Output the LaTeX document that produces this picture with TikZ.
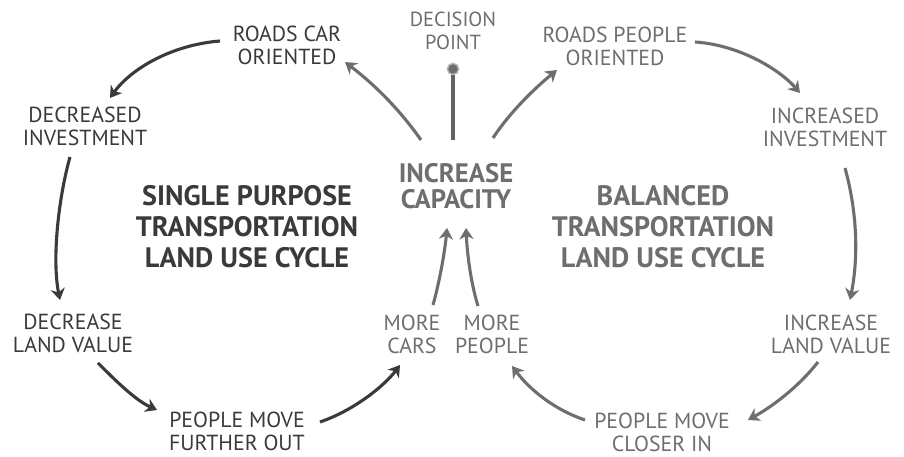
\documentclass[tikz,border=0pt]{standalone}
\usepackage{fontspec}
\setmainfont{PT Sans}
\usetikzlibrary{arrows.meta,calc}
\definecolor{dk}{HTML}{3A3A3A}
\definecolor{gr}{HTML}{6E6E6E}
\tikzset{
  lbl/.style={align=center,font=\fontsize{15.5}{16.5}\selectfont,inner sep=0pt},
  ttl/.style={align=center,font=\fontsize{20}{22}\bfseries\selectfont,inner sep=0pt},
  arr/.style={line width=2.2pt,-{Stealth[length=8pt,width=10pt,inset=2.5pt]}},
}
\begin{document}
\begin{tikzpicture}[x=0.025cm,y=-0.025cm]
\useasboundingbox[fill=white] (0,0) rectangle (904,457);
% nodes
\node[lbl,text=dk] (rco) at (287,45) {ROADS CAR\\ORIENTED};
\node[lbl,text=dk] (di) at (85,126) {DECREASED\\INVESTMENT};
\node[lbl,text=dk] (dlv) at (73,333) {DECREASE\\LAND VALUE};
\node[lbl,text=dk] (pmfo) at (237,431) {PEOPLE MOVE\\FURTHER OUT};
\node[lbl,text=gr] (mc) at (412,334) {MORE\\CARS};
\node[lbl,text=gr] (mp) at (492,334) {MORE\\PEOPLE};
\node[lbl,text=gr] (pmci) at (662,432) {PEOPLE MOVE\\CLOSER IN};
\node[lbl,text=gr] (ilv) at (831,334) {INCREASE\\LAND VALUE};
\node[lbl,text=gr] (ii) at (825,127) {INCREASED\\INVESTMENT};
\node[lbl,text=gr] (rpo) at (615,46) {ROADS PEOPLE\\ORIENTED};
\node[lbl,text=gr,font=\fontsize{14.5}{16.5}\selectfont] (dp) at (453,31) {DECISION\\POINT};
\node[ttl,text=gr,font=\fontsize{19}{18.5}\bfseries\selectfont] (ic) at (456,186) {INCREASE\\CAPACITY};
\node[ttl,text=dk] (sp) at (247,227) {SINGLE PURPOSE\\TRANSPORTATION\\LAND USE CYCLE};
\node[ttl,text=gr] (bt) at (663,227) {BALANCED\\TRANSPORTATION\\LAND USE CYCLE};
\node[circle,fill=gr,draw=gr!50,line width=1pt,minimum size=8pt,inner sep=0pt] (dot) at (453,69) {};
% decision line
\draw[gr!90!black,line width=2.2pt] (dot.south) -- ($(ic)+(-3,-46)$);
% left cycle
\draw[arr,dk] ($(rco)+(-67,-4)$) .. controls +(-50,4) and +(20,-28) .. ($(di)+(25,-28)$);
\draw[arr,dk] ($(di)+(-15,31)$) .. controls +(-12,43) and +(-8,-40) .. ($(dlv)+(-13,-33)$);
\draw[arr,dk] ($(dlv)+(25,30)$) .. controls +(17,17) and +(-22,-10) .. ($(pmfo)+(-80,-21)$);
\draw[arr,dk] ($(pmfo)+(83,-9)$) .. controls +(35,-12) and +(-15,20) .. ($(mc)+(-12,31)$);
% center
\draw[arr,gr] ($(mc)+(21,-29)$) .. controls +(7,-25) and +(-2,22) .. ($(ic)+(-9,42)$);
\draw[arr,gr] ($(mp)+(-14,-28)$) .. controls +(-8,-26) and +(1,22) .. ($(ic)+(10,42)$);
\draw[arr,gr] ($(ic)+(-35,-46)$) .. controls +(-21,-30) and +(30,23) .. ($(rco)+(58,17)$);
\draw[arr,gr] ($(ic)+(37,-48)$) .. controls +(17,-26) and +(-22,18) .. ($(rpo)+(-58,24)$);
% right cycle
\draw[arr,gr] ($(rpo)+(80,-4)$) .. controls +(45,3) and +(-20,-23) .. ($(ii)+(-25,-34)$);
\draw[arr,gr] ($(ii)+(20,41)$) .. controls +(13,47) and +(8,-40) .. ($(ilv)+(19,-34)$);
\draw[arr,gr] ($(ilv)+(-13,28)$) .. controls +(-18,23) and +(27,-15) .. ($(pmci)+(86,-12)$);
\draw[arr,gr] ($(pmci)+(-77,-12)$) .. controls +(-30,-10) and +(18,24) .. ($(mp)+(20,32)$);
\end{tikzpicture}
\end{document}
